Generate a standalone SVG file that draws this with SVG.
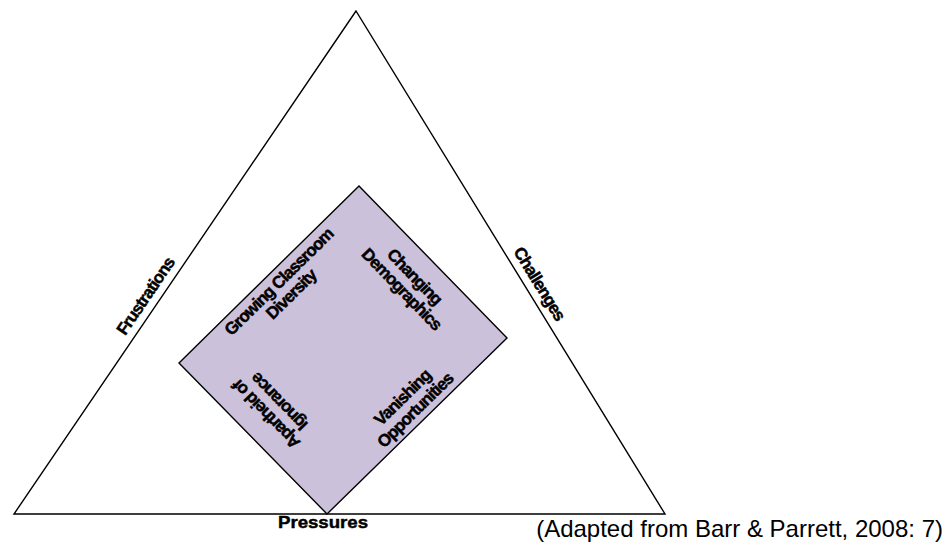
<svg xmlns="http://www.w3.org/2000/svg" width="946" height="544" viewBox="0 0 946 544">
<style>
.shape{stroke:#000;stroke-width:1.4;stroke-linejoin:miter}
.lbl{font-family:"Liberation Sans",Arial,sans-serif;font-weight:bold;fill:#000;stroke:#000;stroke-width:0.45}
.inner{font-size:17px;text-anchor:middle;letter-spacing:-1px}
.outer{font-size:17px;text-anchor:middle;letter-spacing:-0.8px}
.note{font-family:"Liberation Sans",Arial,sans-serif;font-size:24px;fill:#000}
</style>
<rect width="946" height="544" fill="#fff"/>
<g id="triangle">
<polygon class="shape" points="356,11 14,514 665,514" fill="none"/>
</g>
<g id="diamond">
<polygon class="shape" points="359,186 507,338 327,514 179,363" fill="#CCC1DA"/>
</g>
<g id="connectors"></g>
<g id="frustrations">
<text class="lbl outer" transform="translate(150.3,299.3) rotate(-55.8)">Frustrations</text>
</g>
<g id="challenges">
<text class="lbl outer" transform="translate(534.6,286.7) rotate(58.4)">Challenges</text>
</g>
<g id="pressures">
<text class="lbl" x="278" y="528" font-size="17" textLength="90" lengthAdjust="spacingAndGlyphs">Pressures</text>
</g>
<g id="growing-classroom-diversity" transform="translate(285,288) rotate(-44.5)">
<text class="lbl inner" x="0" y="-3">Growing Classroom</text>
<text class="lbl inner" x="0" y="14.5">Diversity</text>
</g>
<g id="changing-demographics" transform="translate(408,283) rotate(45.8)">
<text class="lbl inner" x="0" y="-3.5">Changing</text>
<text class="lbl inner" x="0" y="14.5">Demographics</text>
</g>
<g id="vanishing-opportunities" transform="translate(409,404) rotate(-44.4)">
<text class="lbl inner" x="0" y="-3.5">Vanishing</text>
<text class="lbl inner" x="0" y="14.5">Opportunities</text>
</g>
<g id="apartheid-ignorance" transform="translate(273,408) rotate(-134.4)">
<text class="lbl inner" x="0" y="-3.5">Apartheid of</text>
<text class="lbl inner" x="0" y="14.5">Ignorance</text>
</g>
<g id="attribution">
<text class="note" x="943" y="537" text-anchor="end">(Adapted from Barr &amp; Parrett, 2008: 7)</text>
</g>
</svg>
